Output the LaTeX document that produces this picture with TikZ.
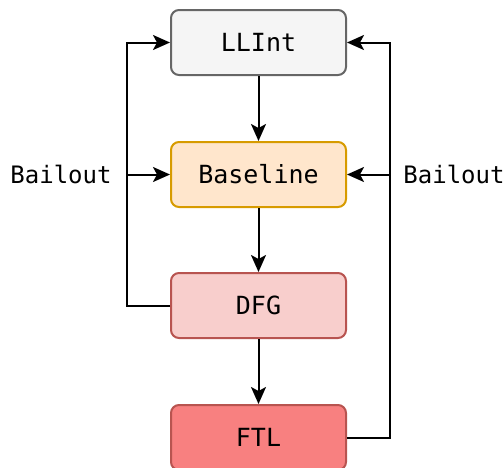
\documentclass[tikz,border=0pt]{standalone}
\usepackage{fontspec}
\setmonofont{DejaVu Sans Mono}
\usetikzlibrary{arrows.meta}
\definecolor{llfill}{HTML}{F5F5F5}
\definecolor{lldraw}{HTML}{666666}
\definecolor{blfill}{HTML}{FFE6CC}
\definecolor{bldraw}{HTML}{D79B00}
\definecolor{dffill}{HTML}{F8CECC}
\definecolor{dfdraw}{HTML}{B85450}
\definecolor{ftfill}{HTML}{F88080}
\tikzset{
  tier/.style={rectangle, rounded corners=8pt, minimum width=175pt, minimum height=65pt, line width=2pt, inner sep=0pt, font=\fontsize{25}{30}\selectfont\ttfamily},
  lbl/.style={font=\fontsize{24}{28}\selectfont\ttfamily, inner sep=0pt},
  conn/.style={line width=2pt, -{Stealth[length=17pt, width=15pt, inset=4pt]}},
}
\begin{document}
\begin{tikzpicture}[x=1pt, y=-1pt]
\useasboundingbox (0,0) rectangle (504,467);
\node[tier, fill=llfill, draw=lldraw] (llint) at (258.5,42.5) {LLInt};
\node[tier, fill=blfill, draw=bldraw] (base) at (258.5,174.5) {Baseline};
\node[tier, fill=dffill, draw=dfdraw] (dfg) at (258.5,305.5) {DFG};
\node[tier, fill=ftfill, draw=dfdraw] (ftl) at (258.5,437.5) {FTL};
\draw[conn] (llint) -- (base);
\draw[conn] (base) -- (dfg);
\draw[conn] (dfg) -- (ftl);
\coordinate (lb) at (127,174.5);
\coordinate (rb) at (390,174.5);
\draw[conn] (dfg.west) -| (lb) |- (llint.west);
\draw[conn] (lb) -- (base.west);
\draw[conn] (ftl.east) -| (rb) |- (llint.east);
\draw[conn] (rb) -- (base.east);
\node[lbl] (bl) at (61,174.5) {Bailout};
\node[lbl] (br) at (454,174.5) {Bailout};
\end{tikzpicture}
\end{document}
